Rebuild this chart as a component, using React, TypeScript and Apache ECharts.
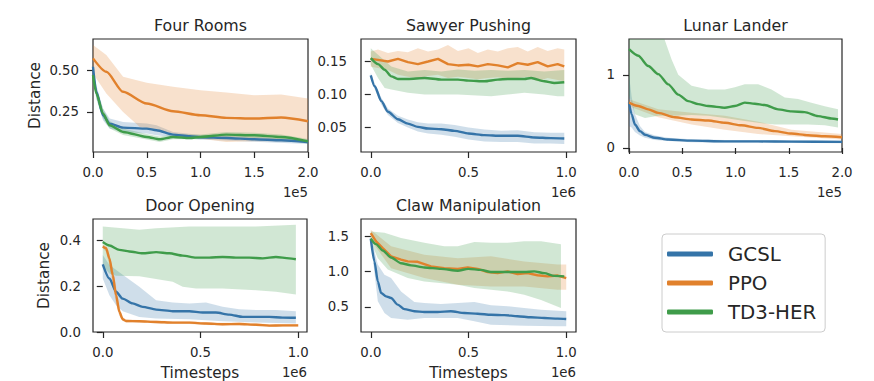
import React, { useEffect, useRef } from "react";
import * as echarts from "echarts";

type P = [number, number];

const algorithms = ["GCSL", "PPO", "TD3-HER"];
const colors = ["#3574a8", "#e1812c", "#3f9c4a"];

const titles = ["Four Rooms", "Sawyer Pushing", "Lunar Lander", "Door Opening", "Claw Manipulation"];
const offsetTexts = ["1e5", "1e6", "1e5", "1e6", "1e6"];

// ---------- tick values ----------
const frXTicks = [0, 0.5, 1, 1.5, 2];
const frYTicks = [0.25, 0.5];
const spXTicks = [0, 0.5, 1];
const spYTicks = [0.05, 0.1, 0.15];
const llXTicks = [0, 0.5, 1, 1.5, 2];
const llYTicks = [0, 1];
const doXTicks = [0, 0.5, 1];
const doYTicks = [0, 0.2, 0.4];
const cmXTicks = [0, 0.5, 1];
const cmYTicks = [0.5, 1, 1.5];

// ---------- Four Rooms (x in 1e5) ----------
const frGcslMean: P[] = [[0,0.52],[0.031,0.37],[0.093,0.23],[0.155,0.18],[0.28,0.156],[0.5,0.15],[0.59,0.14],[0.745,0.114],[0.9,0.104],[1.0,0.098],[1.24,0.094],[1.5,0.086],[1.75,0.08],[2.0,0.07]];
const frGcslUpper: P[] = [[0,0.55],[0.031,0.41],[0.093,0.27],[0.155,0.21],[0.28,0.19],[0.5,0.18],[0.59,0.17],[0.745,0.13],[1.0,0.112],[1.5,0.1],[2.0,0.085]];
const frGcslLower: P[] = [[0,0.48],[0.031,0.33],[0.093,0.2],[0.155,0.15],[0.28,0.13],[0.5,0.12],[0.59,0.11],[0.745,0.098],[1.0,0.085],[1.5,0.072],[2.0,0.058]];
const frPpoMean: P[] = [[0,0.57],[0.124,0.49],[0.28,0.37],[0.5,0.30],[0.745,0.254],[1.0,0.23],[1.24,0.214],[1.5,0.21],[1.75,0.216],[2.0,0.194]];
const frPpoUpper: P[] = [[0,0.65],[0.124,0.59],[0.28,0.46],[0.5,0.424],[0.745,0.40],[1.0,0.38],[1.24,0.366],[1.5,0.35],[1.75,0.354],[2.0,0.33]];
const frPpoLower: P[] = [[0,0.48],[0.124,0.36],[0.28,0.25],[0.435,0.16],[0.59,0.14],[0.745,0.12],[1.0,0.09],[1.24,0.07],[1.5,0.075],[1.75,0.075],[2.0,0.07]];
const frTd3Mean: P[] = [[0,0.47],[0.031,0.36],[0.093,0.24],[0.155,0.17],[0.28,0.13],[0.5,0.10],[0.62,0.086],[0.745,0.1],[0.9,0.094],[1.0,0.1],[1.24,0.114],[1.5,0.11],[1.75,0.1],[2.0,0.074]];
const frTd3Upper: P[] = [[0,0.5],[0.031,0.39],[0.093,0.27],[0.155,0.195],[0.28,0.15],[0.5,0.118],[0.62,0.103],[0.745,0.115],[1.0,0.115],[1.24,0.13],[1.5,0.125],[1.75,0.115],[2.0,0.088]];
const frTd3Lower: P[] = [[0,0.44],[0.031,0.33],[0.093,0.21],[0.155,0.15],[0.28,0.112],[0.5,0.085],[0.62,0.07],[0.745,0.086],[1.0,0.086],[1.24,0.1],[1.5,0.095],[1.75,0.085],[2.0,0.06]];

// ---------- Sawyer Pushing (x in 1e6) ----------
const spGcslMean: P[] = [[0,0.129],[0.02,0.1125],[0.054,0.09],[0.088,0.074],[0.139,0.0625],[0.19,0.056],[0.241,0.051],[0.293,0.0485],[0.361,0.0475],[0.429,0.045],[0.5,0.041],[0.582,0.0385],[0.667,0.0375],[0.752,0.0375],[0.837,0.035],[0.922,0.034],[0.99,0.0335]];
const spGcslUpper: P[] = [[0,0.133],[0.02,0.117],[0.054,0.095],[0.088,0.079],[0.139,0.068],[0.19,0.062],[0.241,0.058],[0.293,0.056],[0.361,0.056],[0.429,0.054],[0.5,0.05],[0.582,0.047],[0.667,0.045],[0.752,0.046],[0.837,0.043],[0.922,0.042],[0.99,0.042]];
const spGcslLower: P[] = [[0,0.125],[0.02,0.108],[0.054,0.085],[0.088,0.069],[0.139,0.057],[0.19,0.05],[0.241,0.044],[0.293,0.041],[0.361,0.039],[0.429,0.036],[0.5,0.032],[0.582,0.029],[0.667,0.028],[0.752,0.028],[0.837,0.026],[0.922,0.026],[0.99,0.025]];
const spPpoMean: P[] = [[0,0.154],[0.037,0.1525],[0.088,0.15],[0.139,0.154],[0.19,0.149],[0.241,0.146],[0.293,0.15],[0.344,0.154],[0.395,0.146],[0.446,0.144],[0.5,0.145],[0.548,0.1425],[0.599,0.146],[0.65,0.144],[0.701,0.141],[0.752,0.1475],[0.803,0.145],[0.854,0.149],[0.905,0.1425],[0.956,0.146],[0.99,0.1425]];
const spPpoUpper: P[] = [[0,0.165],[0.037,0.168],[0.088,0.163],[0.139,0.166],[0.19,0.164],[0.241,0.17],[0.293,0.165],[0.344,0.168],[0.395,0.175],[0.446,0.166],[0.5,0.17],[0.548,0.163],[0.599,0.168],[0.65,0.165],[0.701,0.17],[0.752,0.172],[0.803,0.165],[0.854,0.172],[0.905,0.166],[0.956,0.17],[0.99,0.168]];
const spPpoLower: P[] = [[0,0.142],[0.037,0.14],[0.088,0.137],[0.139,0.13],[0.19,0.127],[0.241,0.125],[0.293,0.128],[0.344,0.13],[0.395,0.125],[0.446,0.127],[0.5,0.125],[0.548,0.123],[0.599,0.125],[0.65,0.126],[0.701,0.124],[0.752,0.125],[0.803,0.127],[0.854,0.12],[0.905,0.125],[0.956,0.122],[0.99,0.12]];
const spTd3Mean: P[] = [[0,0.155],[0.037,0.146],[0.071,0.1375],[0.105,0.1275],[0.139,0.1235],[0.19,0.1235],[0.276,0.125],[0.361,0.1225],[0.446,0.1225],[0.5,0.121],[0.582,0.12],[0.65,0.1225],[0.701,0.1235],[0.786,0.1235],[0.82,0.125],[0.888,0.12],[0.939,0.1175],[0.99,0.1185]];
const spTd3Upper: P[] = [[0,0.17],[0.037,0.16],[0.105,0.1425],[0.19,0.135],[0.276,0.137],[0.361,0.135],[0.446,0.138],[0.53,0.136],[0.616,0.137],[0.701,0.136],[0.786,0.137],[0.888,0.135],[0.99,0.137]];
const spTd3Lower: P[] = [[0,0.145],[0.037,0.125],[0.071,0.11],[0.105,0.1075],[0.19,0.1025],[0.276,0.10],[0.446,0.10],[0.616,0.0975],[0.786,0.1025],[0.888,0.10],[0.956,0.0975],[0.99,0.0975]];

// ---------- Lunar Lander (x in 1e5) ----------
const llGcslMean: P[] = [[0,0.62],[0.025,0.46],[0.056,0.32],[0.103,0.23],[0.15,0.18],[0.244,0.14],[0.369,0.115],[0.5875,0.10],[0.9,0.09],[1.2125,0.09],[1.525,0.087],[2.0,0.083]];
const llGcslUpper: P[] = [[0,1.0],[0.025,0.7],[0.056,0.46],[0.103,0.3],[0.15,0.22],[0.244,0.17],[0.369,0.14],[0.5875,0.12],[0.9,0.11],[1.525,0.105],[2.0,0.1]];
const llGcslLower: P[] = [[0,0.3],[0.025,0.28],[0.056,0.22],[0.103,0.17],[0.15,0.14],[0.244,0.11],[0.369,0.095],[0.5875,0.08],[0.9,0.073],[1.525,0.07],[2.0,0.066]];
const llPpoMean: P[] = [[0,0.62],[0.0875,0.573],[0.181,0.528],[0.275,0.48],[0.431,0.42],[0.5875,0.39],[0.744,0.376],[0.9,0.344],[1.056,0.31],[1.2125,0.275],[1.369,0.23],[1.525,0.197],[1.681,0.174],[1.8375,0.16],[2.0,0.147]];
const llPpoUpper: P[] = [[0,0.665],[0.275,0.53],[0.5875,0.48],[0.9,0.44],[1.2125,0.36],[1.525,0.25],[2.0,0.19]];
const llPpoLower: P[] = [[0,0.57],[0.275,0.42],[0.5875,0.32],[0.9,0.25],[1.2125,0.19],[1.525,0.16],[2.0,0.115]];
const llTd3Mean: P[] = [[0,1.35],[0.0875,1.26],[0.181,1.12],[0.275,1.01],[0.369,0.87],[0.4625,0.73],[0.556,0.64],[0.65,0.6],[0.744,0.573],[0.9,0.55],[0.994,0.573],[1.0875,0.62],[1.181,0.605],[1.275,0.587],[1.4,0.528],[1.525,0.5],[1.65,0.49],[1.775,0.436],[1.9,0.404],[1.9625,0.39]];
const llTd3Upper: P[] = [[0,1.7],[0.275,1.7],[0.3375,1.47],[0.4,1.21],[0.4625,1.0],[0.5875,0.85],[0.744,0.8],[0.9,0.8],[0.994,0.83],[1.0875,0.87],[1.2125,0.87],[1.3375,0.8],[1.4625,0.69],[1.5875,0.67],[1.7125,0.62],[1.8375,0.57],[1.9625,0.53]];
const llTd3Lower: P[] = [[0,0.72],[0.056,0.46],[0.15,0.41],[0.275,0.44],[0.431,0.44],[0.5875,0.45],[0.744,0.44],[0.9,0.41],[1.056,0.376],[1.2125,0.344],[1.369,0.32],[1.525,0.32],[1.681,0.32],[1.8375,0.31],[1.9625,0.28]];

// ---------- Door Opening (x in 1e6) ----------
const doGcslMean: P[] = [[0,0.296],[0.034,0.234],[0.068,0.176],[0.102,0.146],[0.153,0.125],[0.204,0.11],[0.273,0.098],[0.358,0.091],[0.443,0.091],[0.511,0.085],[0.579,0.085],[0.647,0.076],[0.716,0.066],[0.784,0.066],[0.852,0.066],[0.92,0.063],[0.988,0.062]];
const doGcslUpper: P[] = [[0,0.337],[0.034,0.293],[0.102,0.25],[0.187,0.198],[0.273,0.139],[0.358,0.129],[0.443,0.125],[0.528,0.129],[0.613,0.11],[0.698,0.1],[0.784,0.096],[0.886,0.096],[0.988,0.091]];
const doGcslLower: P[] = [[0,0.234],[0.034,0.161],[0.068,0.117],[0.102,0.091],[0.187,0.066],[0.273,0.059],[0.443,0.056],[0.613,0.047],[0.784,0.041],[0.988,0.037]];
const doPpoMean: P[] = [[0,0.374],[0.017,0.366],[0.034,0.322],[0.051,0.249],[0.068,0.161],[0.085,0.088],[0.102,0.056],[0.119,0.048],[0.187,0.047],[0.273,0.044],[0.358,0.041],[0.443,0.041],[0.528,0.037],[0.613,0.034],[0.698,0.035],[0.784,0.032],[0.852,0.028],[0.92,0.029],[1.0,0.029]];
const doPpoUpper: P[] = [[0,0.38],[0.017,0.375],[0.034,0.34],[0.051,0.28],[0.068,0.2],[0.085,0.11],[0.102,0.065],[0.119,0.055],[0.187,0.053],[0.273,0.05],[0.358,0.047],[0.443,0.047],[0.528,0.043],[0.613,0.04],[0.698,0.041],[0.784,0.038],[0.852,0.034],[0.92,0.035],[1.0,0.035]];
const doPpoLower: P[] = [[0,0.366],[0.017,0.35],[0.034,0.29],[0.051,0.21],[0.068,0.12],[0.085,0.07],[0.102,0.048],[0.119,0.042],[0.187,0.041],[0.273,0.038],[0.358,0.035],[0.443,0.035],[0.528,0.031],[0.613,0.028],[0.698,0.029],[0.784,0.026],[0.852,0.022],[0.92,0.023],[1.0,0.023]];
const doTd3Mean: P[] = [[0,0.393],[0.034,0.378],[0.085,0.359],[0.136,0.352],[0.204,0.344],[0.273,0.349],[0.341,0.344],[0.409,0.334],[0.477,0.325],[0.545,0.325],[0.613,0.328],[0.681,0.325],[0.75,0.325],[0.818,0.322],[0.886,0.328],[0.954,0.322],[0.988,0.318]];
const doTd3Upper: P[] = [[0,0.461],[0.102,0.454],[0.187,0.447],[0.273,0.454],[0.443,0.461],[0.613,0.461],[0.784,0.461],[0.988,0.469]];
const doTd3Lower: P[] = [[0,0.29],[0.034,0.256],[0.068,0.246],[0.187,0.244],[0.358,0.22],[0.409,0.198],[0.477,0.19],[0.613,0.19],[0.784,0.183],[0.886,0.176],[0.988,0.164]];

// ---------- Claw Manipulation (x in 1e6) ----------
const cmGcslMean: P[] = [[0,1.467],[0.0187,1.146],[0.036,0.863],[0.053,0.698],[0.078,0.65],[0.104,0.627],[0.138,0.533],[0.172,0.47],[0.223,0.44],[0.274,0.43],[0.342,0.43],[0.41,0.44],[0.479,0.415],[0.547,0.405],[0.615,0.39],[0.683,0.385],[0.751,0.37],[0.819,0.354],[0.888,0.344],[0.956,0.335],[1.0,0.33]];
const cmGcslUpper: P[] = [[0,1.5],[0.036,1.1],[0.07,0.958],[0.104,0.91],[0.155,0.72],[0.223,0.57],[0.274,0.557],[0.359,0.542],[0.445,0.557],[0.53,0.57],[0.615,0.524],[0.7,0.51],[0.785,0.486],[0.871,0.462],[1.0,0.44]];
const cmGcslLower: P[] = [[0,1.43],[0.036,0.58],[0.07,0.415],[0.104,0.344],[0.189,0.32],[0.274,0.344],[0.445,0.344],[0.53,0.297],[0.615,0.25],[0.785,0.236],[0.956,0.226],[1.0,0.226]];
const cmPpoMean: P[] = [[0,1.547],[0.027,1.43],[0.061,1.335],[0.104,1.217],[0.155,1.17],[0.189,1.146],[0.24,1.14],[0.308,1.075],[0.376,1.05],[0.445,1.04],[0.496,1.06],[0.547,1.04],[0.598,0.995],[0.649,0.98],[0.7,1.005],[0.751,0.967],[0.802,0.98],[0.853,0.95],[0.905,0.934],[0.956,0.945],[1.0,0.91]];
const cmPpoUpper: P[] = [[0,1.594],[0.104,1.36],[0.274,1.24],[0.445,1.19],[0.615,1.217],[0.785,1.146],[0.956,1.1],[1.0,1.1]];
const cmPpoLower: P[] = [[0,1.45],[0.104,1.05],[0.274,0.91],[0.445,0.816],[0.615,0.79],[0.785,0.79],[0.956,0.745],[1.0,0.745]];
const cmTd3Mean: P[] = [[0,1.467],[0.027,1.39],[0.061,1.30],[0.104,1.20],[0.155,1.12],[0.206,1.09],[0.274,1.06],[0.359,1.04],[0.445,1.014],[0.499,1.04],[0.564,1.025],[0.615,0.995],[0.7,0.995],[0.785,0.995],[0.836,1.005],[0.888,0.98],[0.939,0.94],[0.99,0.934]];
const cmTd3Upper: P[] = [[0,1.57],[0.07,1.55],[0.155,1.476],[0.274,1.41],[0.376,1.36],[0.445,1.36],[0.53,1.42],[0.615,1.41],[0.7,1.41],[0.785,1.43],[0.871,1.43],[0.973,1.39]];
const cmTd3Lower: P[] = [[0,1.43],[0.036,1.19],[0.087,1.03],[0.189,0.91],[0.274,0.86],[0.445,0.816],[0.53,0.77],[0.615,0.745],[0.7,0.72],[0.785,0.675],[0.871,0.6],[0.973,0.486]];

const TEXT = "#262626";
const FONT = "DejaVu Sans";

function rgba(hex: string, a: number) {
  const n = parseInt(hex.slice(1), 16);
  return `rgba(${(n >> 16) & 255},${(n >> 8) & 255},${n & 255},${a})`;
}

export default function App() {
  const ref = useRef<HTMLDivElement>(null);
  useEffect(() => {
    if (!ref.current) return;
    const chart = echarts.init(ref.current, null, { renderer: "svg" });

    const grids = [
      { left: 93, top: 39, width: 215, height: 113 },
      { left: 361, top: 39, width: 215, height: 113 },
      { left: 629, top: 39, width: 213, height: 113 },
      { left: 93, top: 219, width: 214, height: 113 },
      { left: 361, top: 219, width: 215, height: 113 },
    ];
    const xCfg = [
      { min: 0, max: 2, ticks: frXTicks },
      { min: -0.05, max: 1.05, ticks: spXTicks },
      { min: 0, max: 2, ticks: llXTicks },
      { min: -0.05, max: 1.045, ticks: doXTicks },
      { min: -0.05, max: 1.05, ticks: cmXTicks },
    ];
    const yCfg = [
      { min: 0.01, max: 0.686, ticks: frYTicks, dec: 2, margin: 14 },
      { min: 0.013, max: 0.184, ticks: spYTicks, dec: 2, margin: 14 },
      { min: -0.055, max: 1.49, ticks: llYTicks, dec: 0, margin: 14 },
      { min: 0, max: 0.494, ticks: doYTicks, dec: 1, margin: 12 },
      { min: 0.146, max: 1.746, ticks: cmYTicks, dec: 1, margin: 12 },
    ];
    const plots = [
      [[frGcslMean, frGcslUpper, frGcslLower], [frPpoMean, frPpoUpper, frPpoLower], [frTd3Mean, frTd3Upper, frTd3Lower]],
      [[spGcslMean, spGcslUpper, spGcslLower], [spPpoMean, spPpoUpper, spPpoLower], [spTd3Mean, spTd3Upper, spTd3Lower]],
      [[llGcslMean, llGcslUpper, llGcslLower], [llPpoMean, llPpoUpper, llPpoLower], [llTd3Mean, llTd3Upper, llTd3Lower]],
      [[doGcslMean, doGcslUpper, doGcslLower], [doPpoMean, doPpoUpper, doPpoLower], [doTd3Mean, doTd3Upper, doTd3Lower]],
      [[cmGcslMean, cmGcslUpper, cmGcslLower], [cmPpoMean, cmPpoUpper, cmPpoLower], [cmTd3Mean, cmTd3Upper, cmTd3Lower]],
    ];
    const jagged = (p: number, a: number) => a === 1 && (p === 1 || p === 4);

    const tickStyle = { color: TEXT, width: 1.2 };
    const labelStyle = { color: TEXT, fontSize: 13.3, fontFamily: FONT };

    const series: any[] = [];
    plots.forEach((plot, p) => {
      plot.forEach(([, upper, lower], a) => {
        series.push({
          type: "custom",
          name: algorithms[a] + " band " + p,
          xAxisIndex: p,
          yAxisIndex: p,
          data: [[0, 0]],
          clip: true,
          silent: true,
          z: 1,
          renderItem: (_params: any, api: any) => {
            const pts = upper.map((d) => api.coord(d)).concat(lower.slice().reverse().map((d) => api.coord(d)));
            return { type: "polygon", shape: { points: pts }, style: { fill: rgba(colors[a], 0.24), stroke: "none" } };
          },
        });
      });
    });
    plots.forEach((plot, p) => {
      plot.forEach(([mean], a) => {
        series.push({
          type: "line",
          name: algorithms[a],
          xAxisIndex: p,
          yAxisIndex: p,
          data: mean,
          showSymbol: false,
          symbol: "none",
          smooth: jagged(p, a) ? false : 0.25,
          smoothMonotone: "x",
          clip: true,
          silent: true,
          z: 3,
          itemStyle: { color: colors[a] },
          lineStyle: { color: colors[a], width: 2.4 },
        });
      });
    });

    const titleCenters = grids.map((g) => [g.left + g.width / 2, g.top - 13.5]);
    const graphic: any[] = [];
    titles.forEach((t, i) => {
      graphic.push({
        type: "text",
        x: titleCenters[i][0],
        y: titleCenters[i][1],
        style: { text: t, fill: TEXT, font: `15.8px "${FONT}"`, textAlign: "center", textVerticalAlign: "middle" },
      });
      const g = grids[i];
      graphic.push({
        type: "text",
        x: g.left + g.width,
        y: g.top + g.height + 40,
        style: { text: offsetTexts[i], fill: TEXT, font: `13.3px "${FONT}"`, textAlign: "right", textVerticalAlign: "middle" },
      });
    });
    graphic.push(
      { type: "text", x: 35, y: 95.5, rotation: Math.PI / 2, style: { text: "Distance", fill: TEXT, font: `15.3px "${FONT}"`, textAlign: "center", textVerticalAlign: "middle" } },
      { type: "text", x: 43.7, y: 275.5, rotation: Math.PI / 2, style: { text: "Distance", fill: TEXT, font: `15.3px "${FONT}"`, textAlign: "center", textVerticalAlign: "middle" } },
      { type: "text", x: 200, y: 372.5, style: { text: "Timesteps", fill: TEXT, font: `15.3px "${FONT}"`, textAlign: "center", textVerticalAlign: "middle" } },
      { type: "text", x: 468.5, y: 372.5, style: { text: "Timesteps", fill: TEXT, font: `15.3px "${FONT}"`, textAlign: "center", textVerticalAlign: "middle" } }
    );

    chart.setOption({
      animation: false,
      backgroundColor: "#ffffff",
      grid: grids.map((g) => ({ ...g, show: true, borderColor: TEXT, borderWidth: 1.2, backgroundColor: "transparent", containLabel: false })),
      xAxis: xCfg.map((c, i) => ({
        type: "value",
        gridIndex: i,
        min: c.min,
        max: c.max,
        axisLine: { show: false },
        splitLine: { show: false },
        axisTick: { show: true, length: 6, lineStyle: tickStyle, customValues: c.ticks },
        axisLabel: { ...labelStyle, margin: 14, customValues: c.ticks, formatter: (v: number) => v.toFixed(1) },
      })),
      yAxis: yCfg.map((c, i) => ({
        type: "value",
        gridIndex: i,
        min: c.min,
        max: c.max,
        axisLine: { show: false },
        splitLine: { show: false },
        axisTick: { show: true, length: 6, lineStyle: tickStyle, customValues: c.ticks },
        axisLabel: { ...labelStyle, margin: c.margin, customValues: c.ticks, formatter: (v: number) => v.toFixed(c.dec) },
      })),
      legend: {
        data: algorithms,
        orient: "vertical",
        left: 662,
        top: 234,
        padding: [10, 9, 10, 5],
        itemWidth: 46,
        itemHeight: 5,
        itemGap: 9,
        icon: "roundRect",
        selectedMode: false,
        borderColor: "#cccccc",
        borderWidth: 1,
        borderRadius: 4,
        backgroundColor: "#ffffff",
        textStyle: { fontSize: 19.8, color: TEXT, fontFamily: FONT, padding: [0, 0, 0, 10] },
      },
      graphic,
      series,
    });
    return () => chart.dispose();
  }, []);
  return <div ref={ref} style={{ position: "absolute", left: 0, top: 0, width: 874, height: 381, background: "#fff" }} />;
}
